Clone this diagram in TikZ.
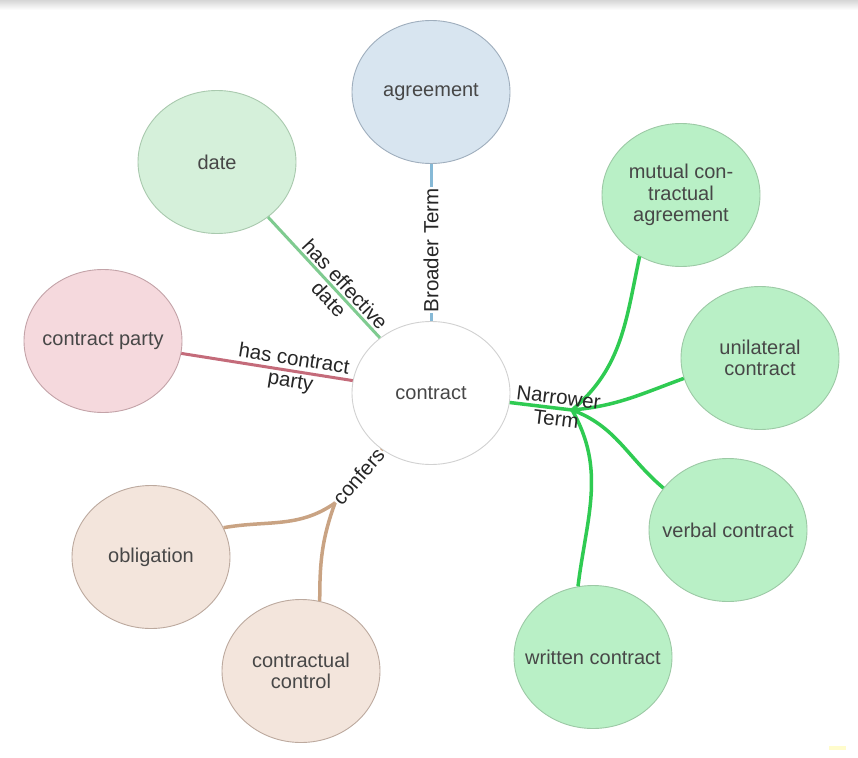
\documentclass[tikz,border=0pt]{standalone}
\usepackage{fontspec}
\setmainfont{Liberation Sans}
\usetikzlibrary{shapes.geometric,calc}

\definecolor{bluefill}{HTML}{D8E5F0}
\definecolor{blueline}{HTML}{9FAEBD}
\definecolor{palefill}{HTML}{D5F0DA}
\definecolor{paleline}{HTML}{A9C9AE}
\definecolor{redfill}{HTML}{F5D9DD}
\definecolor{redline}{HTML}{C3A3A8}
\definecolor{tanfill}{HTML}{F3E5DC}
\definecolor{tanline}{HTML}{BCA99E}
\definecolor{greenfill}{HTML}{B9F0C6}
\definecolor{greenline}{HTML}{9CC9A5}
\definecolor{bedge}{HTML}{86B9D6}
\definecolor{dedge}{HTML}{7FCB90}
\definecolor{redge}{HTML}{C46B7A}
\definecolor{tedge}{HTML}{C9A383}
\definecolor{nedge}{HTML}{2FCB52}

\begin{document}
\begin{tikzpicture}[
	x=1pt,y=-1pt,
	every text node part/.style={align=center},
	concept/.style={ellipse,draw,line width=0.9pt,minimum width=158pt,minimum height=143pt,inner xsep=-17pt,inner ysep=0pt,text=black!72,font=\fontsize{20}{21.5}\selectfont},
	broad/.style={concept,fill=bluefill,draw=blueline},
	pale/.style={concept,fill=palefill,draw=paleline},
	party/.style={concept,fill=redfill,draw=redline},
	tan/.style={concept,fill=tanfill,draw=tanline},
	narrow/.style={concept,fill=greenfill,draw=greenline},
	rel/.style={line width=3pt},
	nrel/.style={line width=3.5pt,draw=nedge},
	trel/.style={line width=3.5pt,draw=tedge},
	lbl/.style={font=\fontsize{20.5}{22}\selectfont,text=black!85,inner sep=4pt},
]
\useasboundingbox[fill=white] (0,0) rectangle (858,757);
\shade[top color=black!16,bottom color=white] (0,0) rectangle (858,10);
\fill[yellow!20] (829,746) rectangle (846,750);

\node[concept,fill=white,draw=black!18] (contract) at (431,393) {contract};
\node[broad] (agreement) at (431,92) {agreement};
\node[pale] (date) at (217,162) {date};
\node[party] (cparty) at (103,341) {contract party};
\node[narrow] (mutual) at (681,195) {mutual con-\\tractual\\agreement};
\node[narrow] (unilateral) at (760,358) {unilateral\\contract};
\node[narrow] (verbal) at (728,530) {verbal contract};
\node[narrow] (written) at (593,657) {written contract};
\node[tan] (obligation) at (151,557) {obligation};
\node[tan] (control) at (301,671) {contractual\\control};

\draw[rel,draw=bedge] (contract) -- node[lbl,sloped,pos=0.45,fill=white,inner sep=1pt] {Broader Term} (agreement);
\draw[rel,draw=dedge] (date) -- node[lbl,sloped,pos=1,anchor=east,align=right] {has effective\\date} (contract);
\draw[rel,draw=redge] (cparty) -- node[lbl,sloped,pos=1,anchor=east,align=right] {has contract\\party} (contract);

% narrower terms
\coordinate (nhub) at (572,410);
\draw[nrel] (nhub) to[out=40,in=258] (mutual.236);
\draw[nrel] (nhub) to[out=5,in=200] (unilateral.195);
\draw[nrel] (nhub) to[out=-20,in=140] (verbal.147);
\draw[nrel] (nhub) to[out=-60,in=83] (written.102);
\draw[nrel] (contract) -- node[lbl,sloped,pos=0,anchor=west,align=left] {Narrower\\Term} (nhub);

% confers
\coordinate (thub) at (335,503);
\draw[trel] (thub) to[out=215,in=10] (obligation.22);
\draw[trel] (thub) to[out=250,in=90] (control.75);
\draw[trel] (thub) -- node[lbl,sloped,midway,fill=white,inner sep=1pt] {confers} (contract);
\end{tikzpicture}
\end{document}
